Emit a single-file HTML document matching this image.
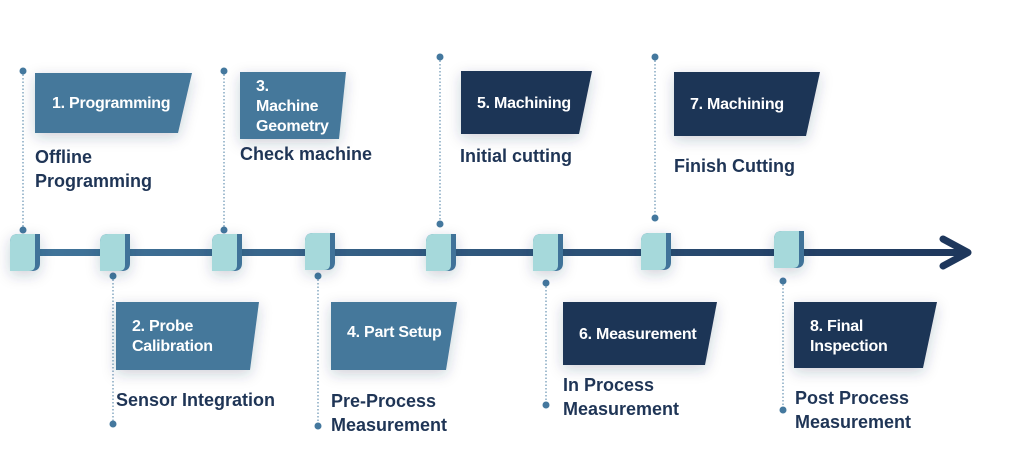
<!DOCTYPE html>
<html><head><meta charset="utf-8"><style>
html,body{margin:0;padding:0;background:#fff;}
svg{display:block;font-family:"Liberation Sans",sans-serif;}
.bt{fill:#fff;font-weight:bold;font-size:16px;letter-spacing:-0.25px;}
.lb{fill:#1f3556;font-weight:bold;font-size:18px;letter-spacing:0px;}
</style></head><body>
<svg width="1018" height="471" viewBox="0 0 1018 471">
<defs>
<filter id="sh" x="-30%" y="-30%" width="160%" height="170%"><feDropShadow dx="0" dy="4" stdDeviation="7" flood-color="#1d3557" flood-opacity="0.22"/></filter>
<linearGradient id="lg" x1="0" x2="1"><stop offset="0" stop-color="#41759b"/><stop offset="1" stop-color="#1e375c"/></linearGradient>
<g id="node"><path d="M0,8 Q0,0 8,0 H30 V29 Q30,37 22,37 H0 Z" fill="#3f7399"/><path d="M0,8 Q0,0 8,0 H25 V31 Q25,37 19,37 H0 Z" fill="#a6d9db"/></g>
</defs>
<g stroke="#4a7ea3" stroke-width="1" stroke-dasharray="1.5 2" fill="none">
<line x1="23" y1="71" x2="23" y2="230"/><line x1="224" y1="71" x2="224" y2="230"/>
<line x1="440" y1="57" x2="440" y2="224"/><line x1="655" y1="57" x2="655" y2="218"/>
<line x1="113" y1="276" x2="113" y2="424"/><line x1="318" y1="276" x2="318" y2="426"/>
<line x1="546" y1="283" x2="546" y2="405"/><line x1="783" y1="281" x2="783" y2="410"/>
</g>
<g fill="#44789e">
<circle cx="23" cy="71" r="3.5"/><circle cx="23" cy="230" r="3.5"/><circle cx="224" cy="71" r="3.5"/><circle cx="224" cy="230" r="3.5"/>
<circle cx="440" cy="57" r="3.5"/><circle cx="440" cy="224" r="3.5"/><circle cx="655" cy="57" r="3.5"/><circle cx="655" cy="218" r="3.5"/>
<circle cx="113" cy="276" r="3.5"/><circle cx="113" cy="424" r="3.5"/><circle cx="318" cy="276" r="3.5"/><circle cx="318" cy="426" r="3.5"/>
<circle cx="546" cy="283" r="3.5"/><circle cx="546" cy="405" r="3.5"/><circle cx="783" cy="281" r="3.5"/><circle cx="783" cy="410" r="3.5"/>
</g>
<rect x="30" y="249" width="935" height="7" fill="url(#lg)"/>
<polyline points="943,239 968,252.5 943,266" fill="none" stroke="#1e375c" stroke-width="7" stroke-linecap="round" stroke-linejoin="round"/>
<g filter="url(#sh)">
<use href="#node" x="10" y="234"/><use href="#node" x="100" y="234"/><use href="#node" x="212" y="234"/><use href="#node" x="305" y="233"/>
<use href="#node" x="426" y="234"/><use href="#node" x="533" y="234"/><use href="#node" x="641" y="233"/><use href="#node" x="774" y="231"/>
<polygon points="35,73 192,73 178,133 35,133" fill="#44789b"/>
<polygon points="240,72 346,72 339,139 240,139" fill="#44789b"/>
<polygon points="461,71 592,71 579,134 461,134" fill="#1f3557"/>
<polygon points="674,72 820,72 806,136 674,136" fill="#1f3557"/>
<polygon points="116,302 259,302 250,370 116,370" fill="#44789b"/>
<polygon points="331,302 457,302 446,370 331,370" fill="#44789b"/>
<polygon points="563,302 717,302 705,365 563,365" fill="#1f3557"/>
<polygon points="794,302 937,302 923,368 794,368" fill="#1f3557"/>
</g>
<text class="bt" x="52" y="108">1. Programming</text>
<text class="bt" x="256" y="91">3.</text><text class="bt" x="256" y="111">Machine</text><text class="bt" x="256" y="131">Geometry</text>
<text class="bt" x="477" y="108">5. Machining</text>
<text class="bt" x="690" y="109">7. Machining</text>
<text class="bt" x="132" y="331">2. Probe</text><text class="bt" x="132" y="351">Calibration</text>
<text class="bt" x="347" y="337">4. Part Setup</text>
<text class="bt" x="579" y="339">6. Measurement</text>
<text class="bt" x="810" y="331">8. Final</text><text class="bt" x="810" y="351">Inspection</text>
<text class="lb" x="35" y="163">Offline</text><text class="lb" x="35" y="187">Programming</text>
<text class="lb" x="240" y="160">Check machine</text>
<text class="lb" x="460" y="162">Initial cutting</text>
<text class="lb" x="674" y="172">Finish Cutting</text>
<text class="lb" x="116" y="406">Sensor Integration</text>
<text class="lb" x="331" y="407">Pre-Process</text><text class="lb" x="331" y="431">Measurement</text>
<text class="lb" x="563" y="391">In Process</text><text class="lb" x="563" y="415">Measurement</text>
<text class="lb" x="795" y="404">Post Process</text><text class="lb" x="795" y="428">Measurement</text>
</svg>
</body></html>
